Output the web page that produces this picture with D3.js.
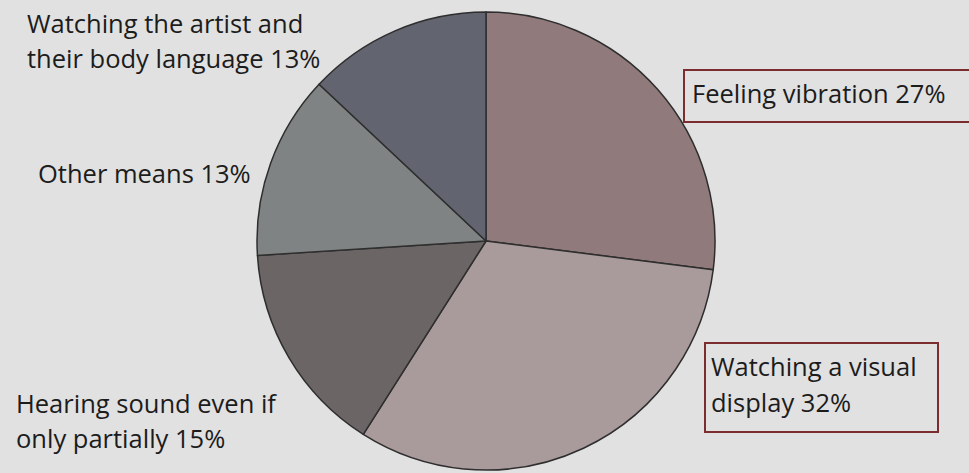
<!DOCTYPE html>
<html><head><meta charset="utf-8">
<script src="https://cdn.jsdelivr.net/npm/d3@7"></script>
<style>
html,body{margin:0;padding:0;background:#e1e1e1;}
svg{display:block;}
text{font-family:"Open Sans","Noto Sans",sans-serif;fill:#1c1c1c;}
</style></head>
<body>
<svg id="chart" width="969" height="473"></svg>
<script>
const categories = ["Feeling vibration", "Watching a visual display", "Hearing sound even if only partially", "Other means", "Watching the artist and their body language"];
const values = [27, 32, 15, 13, 13];
const colors = ["#917a7b", "#a99a9b", "#6b6665", "#7f8383", "#62646f"];
const labelLines = [
  ["Feeling vibration 27%"],
  ["Watching a visual", "display 32%"],
  ["Hearing sound even if", "only partially 15%"],
  ["Other means 13%"],
  ["Watching the artist and", "their body language 13%"]
];

const W = 969, H = 473;
const svg = d3.select("#chart");
svg.append("rect").attr("width", W).attr("height", H).attr("fill", "#e1e1e1");

const cx = 486, cy = 241, r = 229;
const pie = d3.pie().sort(null).value(d => d)(values);
const arc = d3.arc().innerRadius(0).outerRadius(r);
const g = svg.append("g").attr("transform", `translate(${cx},${cy})`);
g.selectAll("path").data(pie).join("path")
  .attr("d", arc)
  .attr("fill", (d, i) => colors[i])
  .attr("stroke", "#2e2e2e")
  .attr("stroke-width", 1.5)
  .attr("stroke-linejoin", "round");

// label layout: [x, first baseline, line height]
const labelPos = [
  [692, 103, 37],
  [711, 376, 36],
  [16, 413, 35],
  [38, 183, 35],
  [27, 33, 35]
];
const boxes = [
  {i: 0, x: 684, y: 70, w: 300, h: 52},
  {i: 1, x: 705, y: 343, w: 233, h: 89}
];
svg.selectAll("rect.box").data(boxes).join("rect")
  .attr("class", "box")
  .attr("x", d => d.x).attr("y", d => d.y)
  .attr("width", d => d.w).attr("height", d => d.h)
  .attr("fill", "none").attr("stroke", "#7b2c2e").attr("stroke-width", 2);

labelLines.forEach((lines, i) => {
  const [x, y, lh] = labelPos[i];
  const t = svg.append("text").attr("font-size", 25.5);
  lines.forEach((ln, j) => {
    t.append("tspan").attr("x", x).attr("y", y + j * lh).text(ln);
  });
});
</script>
</body></html>
